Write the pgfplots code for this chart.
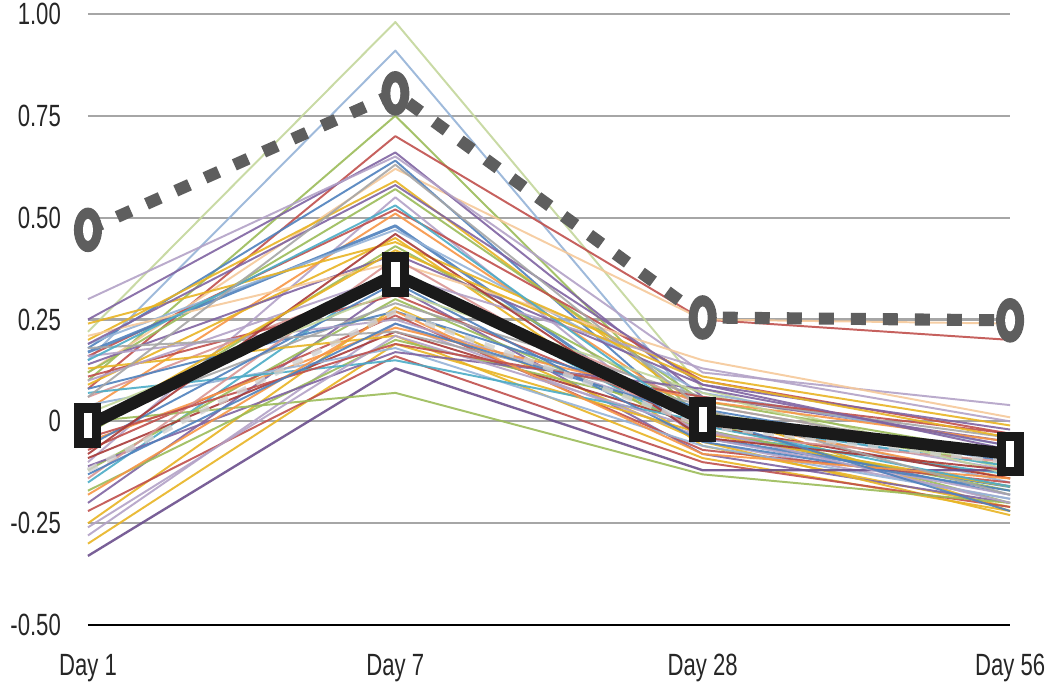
\documentclass[border=0pt]{standalone}
\usepackage{pgfplots}
\pgfplotsset{compat=1.18}
\usepackage{fontspec}
\setmainfont[FakeStretch=0.72]{Liberation Sans}
\definecolor{cB}{HTML}{4F81BD}
\definecolor{cR}{HTML}{C0504D}
\definecolor{cG}{HTML}{9BBB59}
\definecolor{cP}{HTML}{8064A2}
\definecolor{cA}{HTML}{4BACC6}
\definecolor{cO}{HTML}{F79646}
\definecolor{cY}{HTML}{E8B423}
\definecolor{cLB}{HTML}{95B3D7}
\definecolor{cLR}{HTML}{D99694}
\definecolor{cLG}{HTML}{C3D69B}
\definecolor{cLP}{HTML}{B3A2C7}
\definecolor{cT}{HTML}{F5C99A}
\definecolor{cGr}{HTML}{A6A6A6}
\definecolor{cDR}{HTML}{A83A38}
\definecolor{cDP}{HTML}{6A4E8C}
\definecolor{dashgray}{HTML}{5E5E5E}
\definecolor{meanblack}{HTML}{1A1A1A}
\pgfdeclareplotmark{tallsq}{%
  \pgfsetfillcolor{meanblack}%
  \pgfpathrectangle{\pgfpoint{-5.15pt}{-8.55pt}}{\pgfpoint{10.3pt}{17.1pt}}\pgfusepath{fill}%
  \pgfsetfillcolor{white}%
  \pgfpathrectangle{\pgfpoint{-1.6pt}{-4.8pt}}{\pgfpoint{3.2pt}{9.6pt}}\pgfusepath{fill}}
\pgfdeclareplotmark{tallring}{%
  \pgfsetfillcolor{dashgray}%
  \pgfpathellipse{\pgfpointorigin}{\pgfpoint{5.35pt}{0pt}}{\pgfpoint{0pt}{8.5pt}}\pgfusepath{fill}%
  \pgfsetfillcolor{white}%
  \pgfpathellipse{\pgfpointorigin}{\pgfpoint{1.9pt}{0pt}}{\pgfpoint{0pt}{4.2pt}}\pgfusepath{fill}}
\begin{document}
\begin{tikzpicture}
\begin{axis}[
  scale only axis, width=351.2pt, height=232.8pt,
  xmin=0, xmax=3, ymin=-0.5, ymax=1.0,
  xtick={0,1,2,3}, xticklabels={Day 1, Day 7, Day 28, Day 56},
  ytick={-0.5,-0.25,0,0.25,0.5,0.75,1},
  yticklabels={-0.50,-0.25,0,0.25,0.50,0.75,1.00},
  axis x line=bottom, axis y line=left,
  x axis line style={-, black, line width=0.8pt},
  y axis line style={draw=none},
  major tick length=0pt,
  ymajorgrids, grid style={draw=black!35, line width=0.8pt},
  tick label style={font=\fontsize{11.7}{14}\selectfont, text=black!85},
  yticklabel style={xshift=-6.8pt},
  xticklabel style={yshift=-7.5pt},
  clip=false,
  every axis plot/.append style={line join=round},
  thinline/.style={line width=0.75pt, opacity=0.9, mark=none},
]
% individual series
\addplot[thinline, cLG] coordinates {(0,0.22)(1,0.98)(2,0.08)(3,-0.12)};
\addplot[thinline, cLB] coordinates {(0,0.15)(1,0.91)(2,0.02)(3,-0.15)};
\addplot[thinline, cG] coordinates {(0,0.10)(1,0.75)(2,0.00)(3,-0.20)};
\addplot[thinline, cR] coordinates {(0,0.08)(1,0.70)(2,0.25)(3,0.20)};
\addplot[thinline, cT] coordinates {(0,0.12)(1,0.62)(2,0.25)(3,0.24)};
\addplot[thinline, cP] coordinates {(0,0.25)(1,0.66)(2,0.06)(3,-0.05)};
\addplot[thinline, cLP] coordinates {(0,0.30)(1,0.65)(2,0.12)(3,0.04)};
\addplot[thinline, cB] coordinates {(0,0.18)(1,0.64)(2,-0.02)(3,-0.18)};
\addplot[thinline, cY] coordinates {(0,0.20)(1,0.59)(2,0.03)(3,-0.22)};
\addplot[thinline, cG] coordinates {(0,0.12)(1,0.57)(2,0.05)(3,-0.08)};
\addplot[thinline, cLP] coordinates {(0,-0.10)(1,0.55)(2,-0.05)(3,-0.19)};
\addplot[thinline, cR] coordinates {(0,0.16)(1,0.52)(2,0.10)(3,-0.03)};
\addplot[thinline, cO] coordinates {(0,0.03)(1,0.51)(2,0.01)(3,-0.14)};
\addplot[thinline, cB, line width=1.1pt] coordinates {(0,0.17)(1,0.48)(2,-0.04)(3,-0.16)};
\addplot[thinline, cLB] coordinates {(0,0.19)(1,0.47)(2,0.07)(3,-0.06)};
\addplot[thinline, cY] coordinates {(0,0.09)(1,0.45)(2,-0.06)(3,-0.21)};
\addplot[thinline, cG] coordinates {(0,-0.03)(1,0.43)(2,0.02)(3,-0.11)};
\addplot[thinline, cP] coordinates {(0,0.14)(1,0.41)(2,0.09)(3,-0.02)};
\addplot[thinline, cT] coordinates {(0,0.21)(1,0.39)(2,0.15)(3,0.01)};
\addplot[thinline, cA] coordinates {(0,-0.15)(1,0.37)(2,-0.03)(3,-0.13)};
\addplot[thinline, cLR] coordinates {(0,0.06)(1,0.35)(2,0.04)(3,-0.09)};
\addplot[thinline, cP] coordinates {(0,-0.20)(1,0.33)(2,-0.08)(3,-0.20)};
\addplot[thinline, cR] coordinates {(0,0.11)(1,0.31)(2,0.00)(3,-0.07)};
\addplot[thinline, cG] coordinates {(0,-0.12)(1,0.30)(2,-0.02)(3,-0.17)};
\addplot[thinline, cGr] coordinates {(0,0.00)(1,0.29)(2,0.06)(3,-0.04)};
\addplot[thinline, cY] coordinates {(0,-0.25)(1,0.28)(2,-0.05)(3,-0.23)};
\addplot[thinline, cB] coordinates {(0,0.08)(1,0.27)(2,0.03)(3,-0.10)};
\addplot[thinline, cR] coordinates {(0,-0.07)(1,0.26)(2,-0.07)(3,-0.15)};
\addplot[thinline, cLP] coordinates {(0,0.16)(1,0.25)(2,0.01)(3,-0.12)};
\addplot[thinline, cLP] coordinates {(0,-0.28)(1,0.24)(2,-0.04)(3,-0.18)};
\addplot[thinline, cO] coordinates {(0,-0.05)(1,0.23)(2,0.05)(3,-0.05)};
\addplot[thinline, cDR] coordinates {(0,-0.09)(1,0.22)(2,-0.01)(3,-0.14)};
\addplot[thinline, cY] coordinates {(0,0.13)(1,0.21)(2,-0.09)(3,-0.22)};
\addplot[thinline, cG] coordinates {(0,-0.17)(1,0.20)(2,0.02)(3,-0.08)};
\addplot[thinline, cY] coordinates {(0,-0.30)(1,0.19)(2,-0.03)(3,-0.16)};
\addplot[thinline, cLB] coordinates {(0,0.04)(1,0.18)(2,-0.06)(3,-0.19)};
\addplot[thinline, cP] coordinates {(0,-0.11)(1,0.17)(2,0.08)(3,-0.06)};
\addplot[thinline, cR] coordinates {(0,-0.22)(1,0.16)(2,-0.10)(3,-0.21)};
\addplot[thinline, cA] coordinates {(0,0.07)(1,0.15)(2,0.00)(3,-0.11)};
\addplot[thinline, cDP, line width=0.9pt] coordinates {(0,-0.33)(1,0.13)(2,-0.12)(3,-0.12)};
\addplot[thinline, cG] coordinates {(0,0.00)(1,0.07)(2,-0.13)(3,-0.20)};
\addplot[thinline, cY] coordinates {(0,0.24)(1,0.44)(2,0.11)(3,-0.01)};
\addplot[thinline, cLR] coordinates {(0,-0.14)(1,0.40)(2,-0.03)(3,-0.10)};
\addplot[thinline, cLP] coordinates {(0,0.10)(1,0.36)(2,0.13)(3,0.00)};
\addplot[thinline, cB] coordinates {(0,-0.06)(1,0.34)(2,-0.05)(3,-0.17)};
\addplot[thinline, cLG] coordinates {(0,0.02)(1,0.32)(2,0.07)(3,-0.13)};
\addplot[thinline, cO] coordinates {(0,-0.18)(1,0.27)(2,-0.08)(3,-0.14)};
\addplot[thinline, cGr] coordinates {(0,0.18)(1,0.22)(2,0.04)(3,-0.09)};
\addplot[thinline, cLP] coordinates {(0,-0.26)(1,0.21)(2,-0.02)(3,-0.20)};
\addplot[thinline, cR] coordinates {(0,-0.04)(1,0.19)(2,0.06)(3,-0.03)};
\addplot[thinline, cA] coordinates {(0,0.15)(1,0.53)(2,-0.01)(3,-0.16)};
\addplot[thinline, cP] coordinates {(0,0.19)(1,0.58)(2,0.09)(3,-0.07)};
\addplot[thinline, cDR] coordinates {(0,-0.08)(1,0.46)(2,-0.04)(3,-0.12)};
\addplot[thinline, cGr] coordinates {(0,0.06)(1,0.63)(2,0.03)(3,-0.18)};
\addplot[thinline, cY] coordinates {(0,-0.01)(1,0.42)(2,0.10)(3,-0.04)};
\addplot[thinline, cB] coordinates {(0,-0.13)(1,0.24)(2,0.01)(3,-0.22)};
% faint lower dashed line
\addplot[line width=2pt, color=black!18, dash pattern=on 4pt off 4pt, opacity=0.8] coordinates {(0,-0.12)(1,0.27)(2,-0.01)(3,-0.10)};
% mean line
\addplot[line width=4.6pt, color=meanblack, mark=tallsq, mark options={solid}]
  coordinates {(0,-0.01)(1,0.36)(2,0.005)(3,-0.08)};
% upper dashed line
\addplot[line width=4.6pt, color=dashgray, dash pattern=on 5.7pt off 6.5pt, mark=tallring, mark options={solid}]
  coordinates {(0,0.47)(1,0.805)(2,0.255)(3,0.248)};
\end{axis}
\pgfresetboundingbox
\path[use as bounding box] ([xshift=-33.5pt,yshift=-25.1pt]current axis.south west) rectangle ([xshift=15.2pt,yshift=5.3pt]current axis.north east);
\end{tikzpicture}
\end{document}
